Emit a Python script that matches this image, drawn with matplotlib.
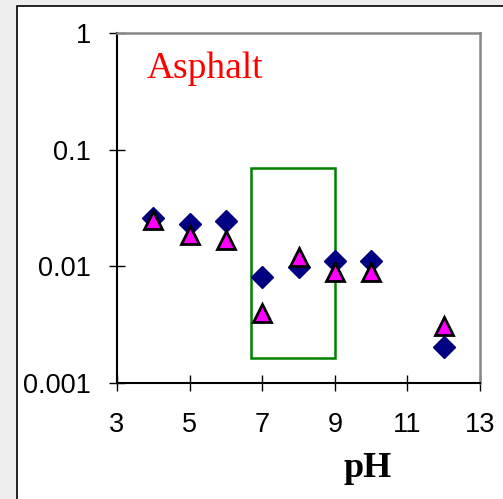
import matplotlib.pyplot as plt
from matplotlib.patches import Rectangle
from matplotlib.ticker import FixedLocator, FixedFormatter, NullLocator

ph = [4, 5, 6, 7, 8, 9, 10, 12]
diamond_vals = [0.0258, 0.0231, 0.0242, 0.0080, 0.0098, 0.0111, 0.0111, 0.00201]
triangle_vals = [0.0251, 0.0185, 0.0167, 0.0040, 0.0120, 0.0089, 0.0089, 0.00306]

x_ticks = [3, 5, 7, 9, 11, 13]
y_ticks = [0.001, 0.01, 0.1, 1]
y_tick_labels = ['0.001', '0.01', '0.1', '1']

# highlighted window (pH range, concentration range)
box_x = (6.7, 9.0)
box_y = (0.00163, 0.0697)

fig = plt.figure(figsize=(5.03, 4.99), dpi=100)
fig.patch.set_facecolor('#eeeeee')

# white panel behind the chart
panel = Rectangle((0.0338, -0.2), 1.5, 0.988 + 0.2, transform=fig.transFigure,
                  facecolor='white', edgecolor='black', linewidth=1.2, zorder=-10)
fig.patches.append(panel)

ax = fig.add_axes([0.2326, 0.2331, 0.9543 - 0.2326, 0.9339 - 0.2331])
ax.set_facecolor('white')

ax.plot(ph, diamond_vals, linestyle='none', marker='D', markersize=11.5,
        color='#000080', zorder=3)
ax.plot(ph, triangle_vals, linestyle='none', marker='^', markersize=12.5,
        markerfacecolor='#ff00ff', markeredgecolor='black', markeredgewidth=2.0,
        zorder=4)

ax.add_patch(Rectangle((box_x[0], box_y[0]), box_x[1] - box_x[0], box_y[1] - box_y[0],
                       fill=False, edgecolor='#008000', linewidth=1.8, zorder=2))

ax.set_yscale('log')
ax.set_xlim(3, 13)
ax.set_ylim(0.001, 1)
ax.xaxis.set_major_locator(FixedLocator(x_ticks))
ax.yaxis.set_major_locator(FixedLocator(y_ticks))
ax.yaxis.set_major_formatter(FixedFormatter(y_tick_labels))
ax.yaxis.set_minor_locator(NullLocator())

for side in ['left', 'bottom']:
    ax.spines[side].set_color('black')
    ax.spines[side].set_linewidth(1.5)
for side in ['top', 'right']:
    ax.spines[side].set_color('#888888')
    ax.spines[side].set_linewidth(1.8)

ax.tick_params(direction='inout', length=11.5, width=1.0, color='black',
               labelsize=19.5, labelfontfamily='Liberation Sans')
ax.tick_params(axis='x', pad=15.5)
ax.tick_params(axis='y', pad=13)

ax.text(0.082, 0.87, 'Asphalt', transform=ax.transAxes, color='red',
        fontsize=27, family='Liberation Serif', va='baseline', ha='left')

fig.text(0.730, 0.0447, 'pH', fontsize=26, family='Liberation Serif',
         fontweight='bold', ha='center', va='baseline')

fig.savefig('out.png', dpi=100, facecolor=fig.get_facecolor())
